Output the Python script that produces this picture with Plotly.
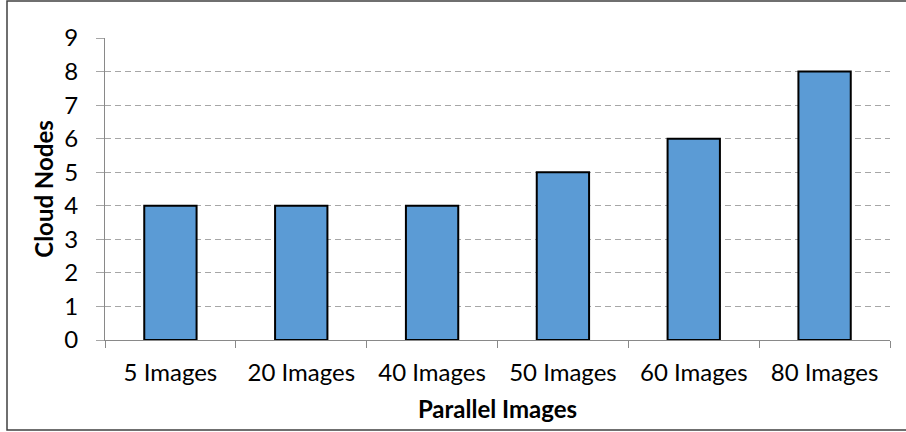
import plotly.graph_objects as go

# Cloud nodes needed per number of parallel images
categories = ["5 Images", "20 Images", "40 Images", "50 Images", "60 Images", "80 Images"]
cloud_nodes = [4, 4, 4, 5, 6, 8]
y_ticks = list(range(0, 10))

W, H = 906, 432
L, R, T, B = 105, 16, 38, 92
pw = W - L - R
ph = H - T - B

fig = go.Figure(
    go.Bar(
        x=categories,
        y=cloud_nodes,
        marker=dict(color="#5b9bd5", line=dict(color="#000000", width=2)),
    )
)

font_family = "Lato, 'Open Sans', sans-serif"
fs = 24

fig.update_layout(
    width=W,
    height=H,
    margin=dict(l=L, r=R, t=T, b=B),
    paper_bgcolor="white",
    plot_bgcolor="white",
    bargap=0.6,
    showlegend=False,
    font=dict(family=font_family, size=fs, color="#000000"),
    xaxis=dict(
        type="category",
        showline=True,
        linecolor="#898989",
        linewidth=1.2,
        ticks="outside",
        tickson="boundaries",
        ticklen=7,
        tickcolor="#898989",
        tickwidth=1.2,
        showgrid=False,
        tickfont=dict(size=fs),
        ticklabelstandoff=11,
        title=dict(text="<b>Parallel Images</b>", font=dict(size=fs), standoff=16),
    ),
    yaxis=dict(
        range=[0, 9],
        tickvals=y_ticks,
        showline=True,
        linecolor="#898989",
        linewidth=1.2,
        ticks="outside",
        ticklen=8,
        tickcolor="#a6a6a6",
        tickwidth=1.2,
        showgrid=True,
        gridcolor="#a6a6a6",
        gridwidth=1.2,
        griddash="6px,4px",
        zeroline=False,
        tickfont=dict(size=fs),
        ticklabelstandoff=13,
        title=dict(text="<b>Cloud Nodes</b>", font=dict(size=fs), standoff=3),
    ),
)

# Outer chart frame
fig.add_shape(
    type="rect",
    xref="paper",
    yref="paper",
    x0=(7 - L) / pw,
    x1=(W + 10 - L) / pw,
    y0=(H - B - 430) / ph,
    y1=(H - B - 1) / ph,
    line=dict(color="#404040", width=1.5),
    fillcolor="rgba(0,0,0,0)",
    layer="below",
)

fig.write_html("out.html")
